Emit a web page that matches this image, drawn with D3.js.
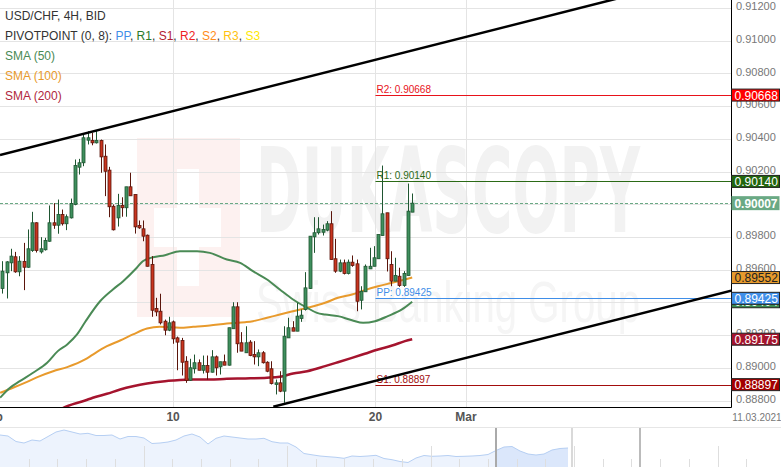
<!DOCTYPE html>
<html><head><meta charset="utf-8">
<script src="https://cdn.jsdelivr.net/npm/d3@7"></script>
<style>html,body{margin:0;padding:0;background:#fff;overflow:hidden}svg{display:block;font-family:"Liberation Sans",Arial,sans-serif}</style>
</head><body><svg id="c" width="781" height="467"></svg>
<script>
// ---------- DATA ----------
const opens = [.89485,.89581,.89642,.89679,.89587,.8965,.89615,.89717,.89887,.89709,
.89722,.89774,.89887,.89872,.89938,.89881,.89917,.89999,.90227,.90254,
.90392,.9039,.90376,.9039,.90294,.90209,.89988,.89917,.89993,.89979,
.90107,.9006,.8987,.8985,.89811,.89632,.89363,.89346,.89285,.8923,
.89281,.89183,.89167,.8904,.88924,.88994,.89031,.88985,.89014,.88973,
.89067,.89006,.89037,.89016,.89239,.89373,.89153,.89092,.89157,.89081,
.89067,.89092,.89034,.88994,.88898,.88908,.88857,.89183,.89245,.89224,
.89302,.89357,.89485,.89801,.89826,.89829,.89842,.89881,.89667,.89591,
.89642,.89577,.89646,.89636,.89413,.89465,.89605,.89621,.89667,.89809,
.89948,.89632,.8953,.8956,.89503,.89565,.89952];
const highs = [.89652,.89652,.89728,.89709,.89683,.89764,.89846,.89954,.8989,.89799,
.89795,.89993,.90007,.90029,.89968,.89938,.90035,.90274,.90278,.90427,
.90447,.90437,.90451,.90396,.90366,.90229,.89999,.90064,.90043,.90107,
.90193,.9006,.89901,.89901,.89815,.89683,.89428,.89453,.89295,.89312,
.89289,.89191,.89183,.89071,.89055,.89081,.89051,.89075,.89075,.89108,
.89075,.89037,.89081,.89245,.89401,.89401,.89218,.89254,.89169,.89163,
.89112,.89102,.8904,.8904,.88928,.88979,.89254,.89306,.89285,.89398,
.89357,.89585,.89805,.89921,.89921,.89876,.89897,.89958,.89789,.89662,
.89662,.89662,.89687,.89662,.89499,.89632,.89734,.89744,.89815,.90237,
.89948,.89713,.89673,.89612,.89591,.90127,.90066];
const lows = [.89454,.89424,.89591,.89581,.8956,.89475,.89612,.89709,.89705,.89699,
.89717,.89771,.8985,.8982,.8987,.89842,.89913,.89994,.90182,.90233,
.90366,.90361,.90372,.90193,.9005,.89921,.8984,.89864,.89924,.89924,
.90052,.89821,.8985,.89774,.8962,.89312,.89316,.89265,.89199,.89224,
.89147,.88985,.88953,.88908,.8892,.88965,.88985,.88965,.88928,.88971,
.88953,.88959,.89016,.89014,.89239,.89092,.89102,.89092,.89071,.8902,
.8901,.89026,.88973,.88898,.88837,.88851,.88786,.89183,.89224,.89224,
.89281,.8935,.89482,.89703,.89815,.89809,.89835,.89662,.89581,.89585,
.89571,.89571,.89618,.89346,.89357,.89465,.89605,.89621,.89667,.89809,
.89589,.89499,.8953,.89495,.89495,.89565,.89952];
const closes = [.89591,.89648,.89683,.89587,.89652,.89615,.89728,.89887,.89717,.89728,
.89779,.89887,.89872,.89938,.89881,.89924,.90005,.90237,.90254,.90407,
.90407,.90376,.9039,.9029,.90202,.89985,.89844,.89993,.89979,.90107,
.90052,.89862,.89856,.89805,.89621,.89352,.89342,.89275,.8923,.89275,
.89177,.89157,.89034,.88922,.89,.89031,.88985,.89014,.88973,.89067,
.89,.89037,.89016,.89245,.89373,.89147,.89102,.89153,.89075,.89067,
.89092,.89031,.88979,.88904,.88908,.88857,.89193,.89245,.89224,.89316,
.89322,.89489,.89805,.89826,.8985,.89846,.89881,.89662,.89591,.89642,
.89577,.89646,.89626,.89407,.89468,.89621,.89621,.89673,.89815,.89942,
.89667,.8953,.89565,.89503,.89577,.89958,.90007];

// SMA series as [candle index, value]
const sma50 = [[-0.5,.88817],[1.8,.88878],[4.1,.88918],[7.2,.8897],[10.5,.89031],[13,.89102],[15.2,.89143],[17.5,.89204],[19.4,.8928],[22.9,.89407],[25.9,.89479],[28.3,.8953],[31.5,.89612],[32.9,.89652],[35.3,.89676],[38.1,.89689],[41.6,.89713],[45.6,.89713],[48.6,.89703],[52.6,.89662],[55.7,.89642],[58.7,.89591],[62,.8954],[65,.89479],[68.1,.89418],[71.4,.89367],[73.7,.89336],[75.6,.89326],[78.6,.89316],[81.9,.89291],[84.5,.89275],[87.3,.89285],[90.3,.89316],[93.6,.89357],[96,.89404]];
const sma100 = [[-0.5,.88847],[2.5,.88878],[5.8,.88914],[8.8,.88949],[11.9,.88979],[15.2,.89004],[19.4,.89051],[21.2,.89081],[24.5,.89132],[27.6,.89167],[30.6,.89204],[33.9,.8924],[36.9,.89251],[41.6,.89245],[44.7,.89251],[48.6,.89259],[52.6,.89271],[56.9,.89279],[58.7,.89285],[62,.89306],[65,.89326],[68.1,.89346],[71.4,.89367],[75.6,.89398],[78.6,.89428],[81.9,.89448],[84.9,.89475],[88,.89499],[91.3,.8952],[94.3,.8954],[96,.89552]];
const sma200 = [[13.5,.88745],[15.2,.88765],[19.4,.888],[21.2,.88817],[24.5,.88841],[27.6,.88867],[30.6,.88887],[33.9,.88904],[38.1,.88918],[40,.88922],[44.7,.88928],[48.6,.88928],[52.6,.88933],[56.9,.88935],[62,.88939],[65,.88945],[68.1,.88965],[71.4,.88979],[75.6,.8901],[78.6,.89034],[81.9,.89061],[84.9,.89086],[88,.89112],[91.3,.89136],[94.3,.89163],[96,.89175]];

// channel trend lines [index, price]
const upperTrend = [[-0.54,.90302],[170.7,.91435]];
const lowerTrend = [[63.47,.88762],[170.7,.89472]];

// pivot levels
const pivotNames = ["R2","R1","PP","S1"];
const pivotValues = [.90668,.90140,.89425,.88897];
const pivotColors = ["#e8121a","#2b6a16","#3f8ee8","#a30d0d"];
const pivotStartIndex = 87.4;

const currentPrice = 0.90007;
const yTicks = [0.888,0.890,0.892,0.894,0.896,0.898,0.900,0.902,0.904,0.906,0.908,0.910,0.912];
const xTickLabels = ["Feb","10","20","Mar"];
const xTickIndex = [-2.4,40,87.4,108.6];

const navValues = [32,31,25.5,24,27,26,30.5,35,37,35,33,33.7,31.5,31.5,32,28,30.5,30.5,29,23.5,24,25,27,31,33,30,23,28.7,31,30,29,28,28,28.7,25.3,24,24,20,13.5,12.2,11,10.3,9.7,8.7,11,10.5,11,11.7,8.5,7.3,5.5,4.5,9,11.5,10.7,11,11.5,10.5,10.7,11,11.5,12.5,16.5,20,20.5,16,13,12,13,17,18.5,19];
const navSelectStart = 62;

// ---------- DRAW ----------
const svg = d3.select("#c");
const W = 781, plotR = 731, plotB = 407;
const x = d3.scaleLinear().domain([0,96]).range([2.3,412.2]);
const y = d3.scaleLinear().domain([0.888,0.912]).range([400.5,8.1]);

svg.append("defs").append("clipPath").attr("id","pc").append("rect")
  .attr("x",0).attr("y",0).attr("width",plotR).attr("height",plotB);

// watermark
const wm = svg.append("g");
wm.append("rect").attr("x",137).attr("y",138).attr("width",103).attr("height",179).attr("fill","#fdf1f0");
wm.append("rect").attr("x",177).attr("y",169).attr("width",22).attr("height",117).attr("fill","#fff");
wm.append("rect").attr("x",154).attr("y",208).attr("width",67).attr("height",39).attr("fill","#fff");
wm.append("text").attr("x",256).attr("y",232).attr("font-size",118).attr("font-weight","bold")
  .attr("font-family","'DejaVu Sans Condensed','Liberation Sans Narrow',sans-serif")
  .attr("textLength",384).attr("lengthAdjust","spacingAndGlyphs").attr("fill","#f2f2f2").text("DUKASCOPY");
wm.append("text").attr("x",256).attr("y",322).attr("font-size",58)
  .attr("textLength",384).attr("lengthAdjust","spacingAndGlyphs").attr("fill","#f5f5f5").text("Swiss Banking Group");

// gridlines
svg.append("g").selectAll("line").data(yTicks).join("line")
  .attr("x1",0).attr("x2",plotR).attr("y1",d=>Math.round(y(d))+0.5).attr("y2",d=>Math.round(y(d))+0.5)
  .attr("stroke","#e4e4e4");
svg.append("g").selectAll("line").data(xTickIndex.slice(1)).join("line")
  .attr("x1",d=>Math.round(x(d))+0.5).attr("x2",d=>Math.round(x(d))+0.5).attr("y1",0).attr("y2",plotB)
  .attr("stroke","#e4e4e4");

const plot = svg.append("g").attr("clip-path","url(#pc)");

// current price dashed
plot.append("line").attr("x1",0).attr("x2",plotR).attr("y1",Math.round(y(currentPrice))+0.5).attr("y2",Math.round(y(currentPrice))+0.5)
  .attr("stroke","#6aa984").attr("stroke-dasharray","3,2");

// pivot lines
pivotValues.forEach((v,i)=>{
  const yy = Math.round(y(v))+0.5;
  plot.append("line").attr("x1",x(pivotStartIndex)).attr("x2",plotR).attr("y1",yy).attr("y2",yy)
    .attr("stroke",pivotColors[i]).attr("stroke-width",1);
  plot.append("text").attr("x",x(pivotStartIndex)+1).attr("y",yy-3).attr("font-size",10)
    .attr("fill",pivotColors[i]).text(pivotNames[i]+": "+v.toFixed(5));
});

// SMA lines
const ln = d3.line().x(d=>x(d[0])).y(d=>y(d[1])).curve(d3.curveMonotoneX);
plot.append("path").attr("d",ln(sma200)).attr("fill","none").attr("stroke","#a5142e").attr("stroke-width",2.5);
plot.append("path").attr("d",ln(sma100)).attr("fill","none").attr("stroke","#e89a2c").attr("stroke-width",2);
plot.append("path").attr("d",ln(sma50)).attr("fill","none").attr("stroke","#4a8a55").attr("stroke-width",2);

// candles
const idx = d3.range(opens.length);
const cg = plot.append("g");
idx.forEach(i=>{
  const up = closes[i] >= opens[i];
  const cx = Math.round(x(i))+0.5;
  const dark = up ? "#1f5531" : "#5a150b";
  cg.append("line").attr("x1",cx).attr("x2",cx).attr("y1",y(highs[i])).attr("y2",y(lows[i]))
    .attr("stroke",dark).attr("stroke-width",1);
  const top = y(Math.max(opens[i],closes[i])), bot = y(Math.min(opens[i],closes[i]));
  cg.append("rect").attr("x",cx-1.5).attr("y",top).attr("width",3).attr("height",Math.max(1,bot-top))
    .attr("fill",up ? "#3f8f5e" : "#c9351f").attr("stroke",dark).attr("stroke-width",0.8);
});

// trend lines
plot.append("path").attr("d",d3.line().x(d=>x(d[0])).y(d=>y(d[1]))(upperTrend)).attr("stroke","#000").attr("stroke-width",2.5).attr("fill","none");
plot.append("path").attr("d",d3.line().x(d=>x(d[0])).y(d=>y(d[1]))(lowerTrend)).attr("stroke","#000").attr("stroke-width",2.5).attr("fill","none");

// axes lines
svg.append("line").attr("x1",plotR+0.5).attr("x2",plotR+0.5).attr("y1",0).attr("y2",plotB+0.5).attr("stroke","#000");
svg.append("line").attr("x1",0).attr("x2",plotR+0.5).attr("y1",plotB+0.5).attr("y2",plotB+0.5).attr("stroke","#000");

// y tick labels
svg.append("g").selectAll("text").data(yTicks).join("text")
  .attr("x",736).attr("y",d=>y(d)-2).attr("dominant-baseline","central").attr("font-size",11).attr("fill","#777")
  .text(d=>d.toFixed(5));

// x tick labels
svg.append("g").selectAll("text").data(xTickLabels).join("text")
  .attr("x",(d,i)=>x(xTickIndex[i])).attr("y",417).attr("dominant-baseline","central").attr("text-anchor","middle")
  .attr("font-size",12).attr("font-weight","bold").attr("fill","#555").text(d=>d);
svg.append("text").attr("x",757).attr("y",417).attr("dominant-baseline","central").attr("text-anchor","middle")
  .attr("font-size",10).attr("fill","#777").text("11.03.2021");

// price boxes
function box(v,bg,fg,stroke,fs,h,bold){
  const yy = y(v);
  svg.append("rect").attr("x",731.5).attr("y",yy-h/2).attr("width",48).attr("height",h)
    .attr("fill",bg).attr("stroke",stroke||"none").attr("stroke-width",1);
  const t = svg.append("text").attr("x",734.5).attr("y",yy+0.5).attr("dominant-baseline","central").attr("font-size",fs)
    .attr("fill",fg).text(v.toFixed(5));
  if(bold) t.attr("font-weight","bold").attr("textLength",43).attr("lengthAdjust","spacingAndGlyphs");
}
box(pivotValues[0],"#ff0000","#fff","#222",12,12);
box(pivotValues[1],"#22660e","#fff","#222",12,12);
box(currentPrice,"#6aa984","#fff",null,13.5,14,true);
box(sma100[sma100.length-1][1],"#e79a2c","#222","#222",12,12);
box(sma50[sma50.length-1][1],"#3b8a4e","#fff","#222",12,12);
box(pivotValues[2],"#3f8ee8","#fff","#222",12,12);
box(sma200[sma200.length-1][1],"#a5142e","#fff","#222",12,12);
box(pivotValues[3],"#a30000","#fff","#222",12,12);

// legend
const lg = svg.append("g").attr("font-size",12);
lg.append("text").attr("x",5).attr("y",20).attr("fill","#333").text("USD/CHF, 4H, BID");
const pv = lg.append("text").attr("x",5).attr("y",40).attr("fill","#333");
pv.append("tspan").text("PIVOTPOINT (0, 8): ");
const pvNames = ["PP","R1","S1","R2","S2","R3","S3"];
const pvCols = ["#3f8ee8","#2b7a2a","#b22030","#ee2222","#ff8c1a","#ffc20e","#ffe800"];
pvNames.forEach((n,i)=>{
  pv.append("tspan").attr("fill",pvCols[i]).text(n);
  if(i<pvNames.length-1) pv.append("tspan").attr("fill","#333").text(", ");
});
lg.append("text").attr("x",5).attr("y",60).attr("fill","#4a8a55").text("SMA (50)");
lg.append("text").attr("x",5).attr("y",80).attr("fill","#e89a2c").text("SMA (100)");
lg.append("text").attr("x",5).attr("y",100).attr("fill","#b0283c").text("SMA (200)");

// navigator
const nx = d3.scaleLinear().domain([0,navValues.length-1]).range([0,568]);
const ny = d3.scaleLinear().domain([0,40]).range([467,427]);
const nav = svg.append("g");
nav.append("line").attr("x1",0).attr("x2",W).attr("y1",427.5).attr("y2",427.5).attr("stroke","#e6e6e6");
const area = d3.area().x((d,i)=>nx(i)).y0(467).y1(d=>ny(d));
nav.append("path").attr("d",area(navValues)).attr("fill","#edf3fd");
const selData = navValues.map((d,i)=>[i,d]).filter(d=>d[0]>=navSelectStart);
nav.append("path").attr("d",d3.area().x(d=>nx(d[0])).y0(467).y1(d=>ny(d[1]))(selData)).attr("fill","#dbe7fb");
nav.append("path").attr("d",d3.line().x((d,i)=>nx(i)).y(d=>ny(d))(navValues)).attr("fill","none").attr("stroke","#b6cff3").attr("stroke-width",1);
const navTicks = d3.range(1,27);
nav.selectAll(".nt").data(navTicks).join("line")
  .attr("x1",d=>Math.round(d*28.7)+0.5).attr("x2",d=>Math.round(d*28.7)+0.5)
  .attr("y1",d=>d%5===0?446:459).attr("y2",467).attr("stroke","#dedede");
[[nx(navSelectStart),"#aaa",2],[nx(navValues.length-1)+4,"#ccc",1.5],[640,"#bbb",2]].forEach(h=>{
  nav.append("line").attr("x1",h[0]).attr("x2",h[0]).attr("y1",428).attr("y2",467).attr("stroke",h[1]).attr("stroke-width",h[2]);
});
</script></body></html>
